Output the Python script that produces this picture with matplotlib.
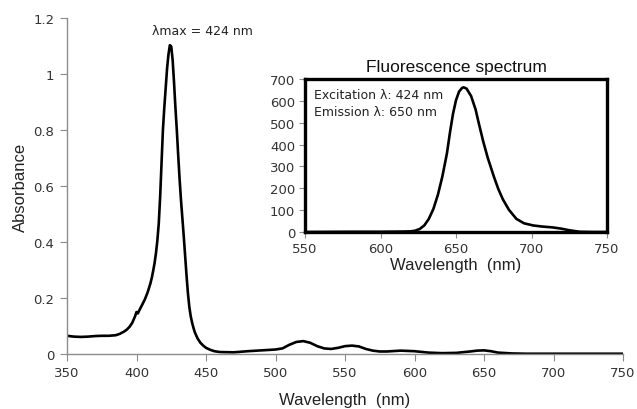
import matplotlib.pyplot as plt

# absorbance spectrum
abs_wl = [350, 355, 360, 365, 370, 375, 380, 385, 388, 391, 393, 395, 397, 399, 400, 401, 402, 404, 406, 408,
          410, 411, 412, 413, 414, 415, 416, 417, 418, 419, 420, 421, 422, 423, 424, 425, 426, 427, 428, 429,
          430, 431, 432, 433, 434, 435, 436, 437, 438, 439, 440, 441, 442, 444, 446, 448, 450, 453, 456, 460,
          470, 480, 490, 500, 505, 510, 515, 520, 525, 530, 535, 540, 545, 550, 555, 560, 565, 570, 575, 580, 590,
          600, 610, 620, 630, 640, 645, 650, 655, 660, 670, 680, 700, 725, 750]
abs_val = [0.065, 0.062, 0.061, 0.062, 0.064, 0.065, 0.065, 0.067, 0.072, 0.08, 0.087, 0.097, 0.112, 0.135, 0.15, 0.145, 0.156, 0.175, 0.195, 0.22,
           0.252, 0.272, 0.297, 0.325, 0.36, 0.405, 0.465, 0.56, 0.68, 0.8, 0.88, 0.95, 1.02, 1.07, 1.103, 1.098, 1.05, 0.97, 0.88, 0.8,
           0.71, 0.625, 0.55, 0.485, 0.42, 0.35, 0.28, 0.217, 0.168, 0.135, 0.112, 0.093, 0.077, 0.055, 0.04, 0.03, 0.022, 0.015, 0.01, 0.007,
           0.006, 0.01, 0.013, 0.016, 0.02, 0.033, 0.043, 0.046, 0.04, 0.028, 0.02, 0.018, 0.022, 0.028, 0.03, 0.027, 0.018, 0.012, 0.009, 0.009, 0.012,
           0.01, 0.005, 0.003, 0.004, 0.009, 0.012, 0.013, 0.01, 0.005, 0.002, 0.001, 0.001, 0.001, 0.001]

# fluorescence spectrum (inset)
fl_wl = [550, 580, 600, 615, 620, 623, 626, 629, 632, 635, 638, 641, 644, 646, 648, 650, 652, 654, 655, 657,
         660, 663, 665, 668, 671, 675, 678, 681, 685, 690, 695, 701, 707, 714, 720, 725, 732, 740, 750]
fl_val = [0, 1, 1, 2, 3, 6, 14, 30, 60, 105, 170, 255, 360, 455, 540, 603, 642, 659, 662, 656,
          622, 560, 500, 415, 340, 255, 197, 150, 102, 60, 40, 30, 25, 21, 15, 8, 1, 0, 0]

fig = plt.figure(figsize=(6.37, 4.10), dpi=100)
plt.rcParams['font.family'] = 'DejaVu Sans'
gray = '#8c8c8c'
W, H = 637, 410

# main axes
ax = fig.add_axes([67 / W, 1 - 355 / H, (623 - 67) / W, (355 - 19) / H])
ax.plot(abs_wl, abs_val, color='black', lw=1.9, solid_joinstyle='round')
ax.set_xlim(350, 750)
ax.set_ylim(0, 1.2)
ax.set_xticks(range(350, 751, 50))
ax.set_yticks([0, 0.2, 0.4, 0.6, 0.8, 1, 1.2])
ax.set_yticklabels(['0', '0.2', '0.4', '0.6', '0.8', '1', '1.2'])
for s in ['top', 'right']:
    ax.spines[s].set_visible(False)
for s in ['left', 'bottom']:
    ax.spines[s].set_color(gray)
    ax.spines[s].set_linewidth(1)
ax.tick_params(direction='out', length=5, color=gray, labelsize=9.5, labelcolor='#333333', pad=4)
ax.set_xlabel('Wavelength  (nm)', family='Liberation Sans', fontsize=12, color='#222222', labelpad=9)
ax.set_ylabel('Absorbance', family='Liberation Sans', fontsize=12, color='#222222', labelpad=4)
ax.text(411, 1.155, 'λmax = 424 nm', ha='left', va='center', fontsize=9, color='#222222')

# inset
axi = fig.add_axes([305 / W, 1 - 233 / H, (607 - 305) / W, (233 - 80) / H])
axi.plot(fl_wl, fl_val, color='black', lw=1.9, solid_joinstyle='round')
axi.set_xlim(550, 750)
axi.set_ylim(0, 700)
axi.set_xticks(range(550, 751, 50))
axi.set_yticks(range(0, 701, 100))
for s in axi.spines.values():
    s.set_linewidth(2.4)
    s.set_color('black')
axi.tick_params(direction='out', length=4, color=gray, labelsize=9.5, labelcolor='#333333', pad=3)
axi.set_xlabel('Wavelength  (nm)', family='Liberation Sans', fontsize=12, color='#222222', labelpad=2)
axi.set_title('Fluorescence spectrum', family='Liberation Sans', fontsize=12.5, color='#111111', pad=6)
axi.text(0.03, 0.94, 'Excitation λ: 424 nm\nEmission λ: 650 nm', transform=axi.transAxes,
         ha='left', va='top', fontsize=9, linespacing=1.35, color='#222222')

fig.savefig('out.png', dpi=100)
